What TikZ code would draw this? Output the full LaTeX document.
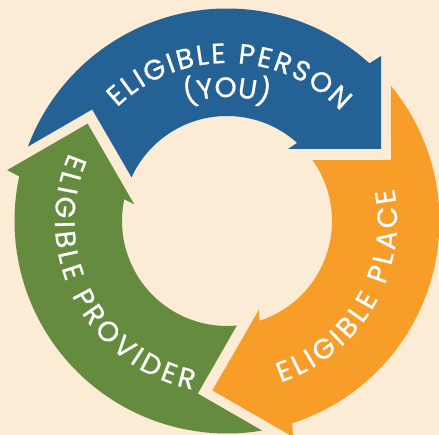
\documentclass[tikz,border=0pt]{standalone}
\usepackage{fontspec}
\setmainfont{Poppins}
\newfontfamily\cyclefamily{Poppins}[FakeBold=0.8]
\usetikzlibrary{decorations.text}

\definecolor{cycleBlue}{HTML}{246194}
\definecolor{cycleOrange}{HTML}{F89D28}
\definecolor{cycleGreen}{HTML}{658C3E}
\definecolor{paper}{HTML}{FDECD5}
\newcommand{\cyclefont}{\cyclefamily\fontsize{28}{28}\selectfont\color{white}}

\tikzset{
  ringtext/.style={decorate, decoration={text along path, text align={fit to path}, text={|\cyclefont|#1}}},
  ringlabel/.style={decorate, decoration={text along path, text align=center, text={|\cyclefont|#1}}}
}

\begin{document}
\begin{tikzpicture}[x=1pt, y=1pt]

  % Background and margins
  \fill[paper] (-227,-214) rectangle (212,221);
  \useasboundingbox (-227,-214) rectangle (212,221);

  % Three arrows, the top one turned by 120 degrees
  \foreach \col/\rot in {cycleBlue/0, cycleOrange/-120, cycleGreen/120}{
    \fill[\col, rotate=\rot] (159.5:212.5) arc[start angle=159.5, end angle=47.9, radius=212.5]
      -- (154,165) -- (154,72) -- (61,72) -- (48.1:105)
      arc[start angle=48.1, end angle=155.4, radius=105]
      -- (140.4:175) -- cycle;
  }

  % Labels along the ring
  \path[ringtext={ELIGIBLE PERSON}] (134:158) arc[start angle=134, end angle=44, radius=158];
  \path[ringlabel={(YOU)}] (110:124) arc[start angle=110, end angle=70, radius=124];
  \path[ringtext={ELIGIBLE PLACE}] (-71.6:170) arc[start angle=-71.6, end angle=11, radius=170];
  \path[ringtext={ELIGIBLE PROVIDER}] (156.7:172) arc[start angle=156.7, end angle=258.5, radius=172];

\end{tikzpicture}
\end{document}
